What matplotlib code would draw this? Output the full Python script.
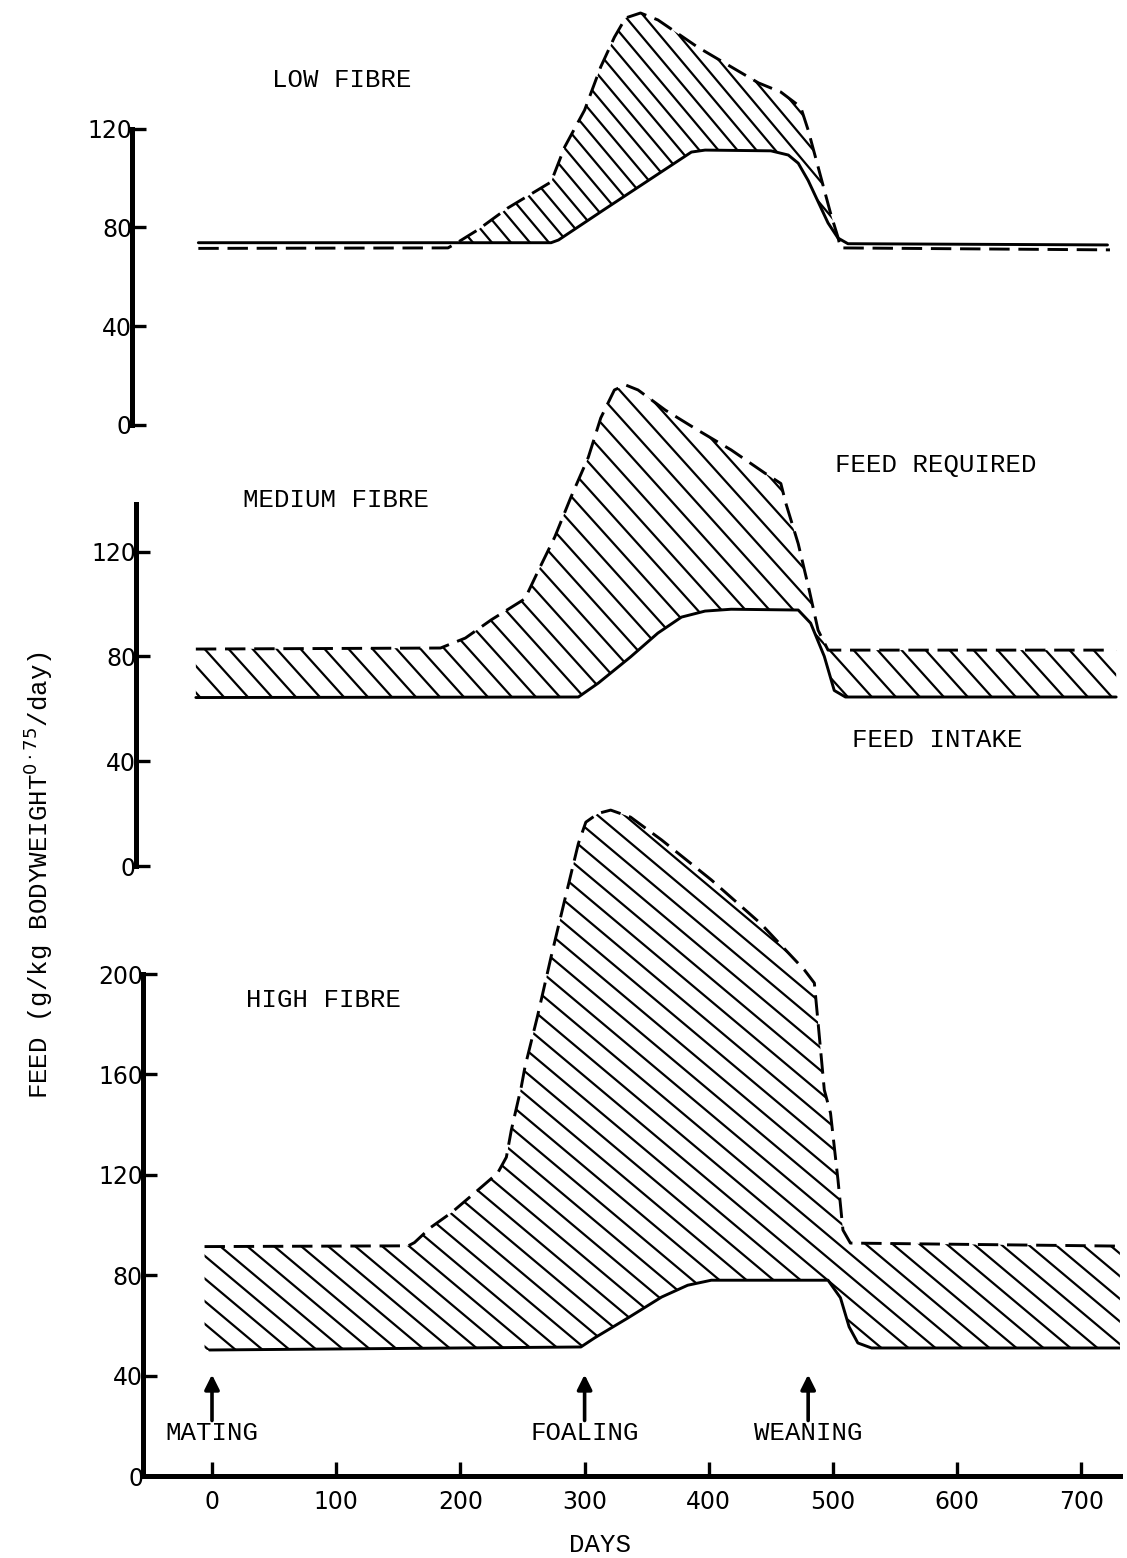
import numpy as np
import matplotlib.pyplot as plt
from matplotlib.path import Path

# feed intake (solid) and feed required (dashed)
# days from mating  /  g per kg bodyweight^0.75 per day
low_int_d = [-11, 273, 279, 316, 386, 397, 450, 464, 472, 480, 496, 504, 512, 721]
low_int_v = [73.8, 73.8, 74.9, 87.3, 110.5, 111.3, 111, 109.3, 106, 99, 81.8, 75.7, 73.4, 72.9]
low_req_d = [-11, 190, 198, 214, 238, 273, 284, 300, 313, 324, 333, 345, 359, 391,
             418, 440, 458, 474, 480, 488, 498, 504, 506, 723]
low_req_v = [71.5, 71.7, 74, 79, 87.8, 98.4, 112.6, 127.5, 145, 157, 164.8, 166.8, 164, 153,
             145, 138.5, 134.8, 128.7, 119.4, 104.5, 85.8, 76, 71.7, 70.9]

med_int_d = [-13, 295, 311, 337, 359, 378, 397, 418, 472, 482, 493, 501, 510, 728]
med_int_v = [64.3, 64.5, 69.8, 79.8, 88.9, 95, 97.3, 98, 97.7, 92.7, 80, 67, 64.5, 64.5]
med_req_d = [-13, 184, 204, 225, 252, 262, 276, 289, 303, 313, 324, 333, 343, 365,
             391, 418, 445, 458, 462, 472, 481, 488, 496, 723]
med_req_v = [82.8, 83.2, 87, 94, 102, 112, 125.6, 140.8, 156, 171, 181.7, 183.6, 181.7, 174,
             166.4, 158.8, 150, 146, 138.5, 123, 105, 90, 82.4, 82.4]

high_int_d = [-2, 297, 308, 335, 362, 383, 402, 493, 496, 506, 513, 520, 531, 731]
high_int_v = [50.2, 51.4, 55, 63, 71.3, 76, 78, 78, 78, 71, 59.4, 53, 51, 51]
high_req_d = [-6, 158, 163, 176, 193, 212, 230, 237, 241, 249, 252, 262, 273, 284, 295,
              301, 311, 321, 337, 362, 402, 442, 477, 485, 488, 493, 498, 504, 508, 514, 729]
high_req_v = [91.4, 91.7, 93, 99, 105, 113, 120.7, 127, 137.8, 155, 163, 183, 206.8, 229.5, 252,
              260.5, 264, 265.3, 262.5, 253.4, 237.5, 220, 201.6, 196.4, 180.5, 153.8, 144.6,
              118, 98, 92.8, 91.6]

events = ['MATING', 'FOALING', 'WEANING']
event_days = [0, 300, 480]
day_ticks = [0, 100, 200, 300, 400, 500, 600, 700]

W, H = 1127, 1558
X0, XS = 212, 1.242          # pixel of day 0, pixels per day
MONO = 'Liberation Mono'

fig = plt.figure(figsize=(W / 100, H / 100), dpi=100)


def panel(left, right, top, bottom, ppu, ymax, yticks):
    ax = fig.add_axes([left / W, 1 - bottom / H, (right - left) / W, (bottom - top) / H])
    ax.set_xlim((left - X0) / XS, (right - X0) / XS)
    ax.set_ylim(0, (bottom - top) / ppu)
    ax.patch.set_visible(False)
    for s in ['top', 'right', 'bottom']:
        ax.spines[s].set_visible(False)
    ax.spines['left'].set_linewidth(3.6)
    ax.spines['left'].set_bounds(0, ymax)
    ax.set_yticks(yticks)
    ax.set_xticks([])
    ax.tick_params(axis='y', direction='in', length=10, width=2.4, pad=0, labelsize=17)
    return ax


def hatch(ax, d_lo, v_lo, d_hi, v_hi, gap, ang):
    xs = np.union1d(d_lo, d_hi)
    lo = np.interp(xs, d_lo, v_lo)
    hi = np.interp(xs, d_hi, v_hi)
    area = ax.fill_between(xs, lo, hi, where=hi > lo, interpolate=True,
                           facecolor='none', edgecolor='none')
    clip = Path.make_compound_path(*area.get_paths())
    bb = ax.get_position()
    w, h = bb.width * W, bb.height * H
    run = h / np.tan(np.radians(ang))
    for c in np.arange(-run, w, gap):
        ln, = ax.plot([c / w, (c + run) / w], [1, 0], transform=ax.transAxes,
                      color='black', lw=1.6)
        ln.set_clip_path(clip, ax.transData)


def curves(ax, d_int, v_int, d_req, v_req):
    ax.plot(d_int, v_int, color='black', lw=2.1, solid_capstyle='round')
    ax.plot(d_req, v_req, color='black', lw=2.1, dashes=(7, 3))


# LOW FIBRE
ax1 = panel(132, 1120, 0, 425, 2.47, 120, [0, 40, 80, 120])
hatch(ax1, low_int_d, low_int_v, low_req_d, low_req_v, 19, 50)
curves(ax1, low_int_d, low_int_v, low_req_d, low_req_v)

# MEDIUM FIBRE
ax2 = panel(136, 1120, 370, 866, 2.62, 138, [0, 40, 80, 120])
hatch(ax2, med_int_d, med_int_v, med_req_d, med_req_v, 24, 48)
curves(ax2, med_int_d, med_int_v, med_req_d, med_req_v)

# HIGH FIBRE
ax3 = panel(143, 1120, 790, 1476, 2.51, 200, [0, 40, 80, 120, 160, 200])
hatch(ax3, high_int_d, high_int_v, high_req_d, high_req_v, 27, 40)
curves(ax3, high_int_d, high_int_v, high_req_d, high_req_v)
ax3.spines['bottom'].set_visible(True)
ax3.spines['bottom'].set_linewidth(3.6)
ax3.set_xticks(day_ticks)
ax3.tick_params(axis='x', direction='in', length=10, width=2.4, pad=10, labelsize=17)

for name, d in zip(events, event_days):
    ax3.annotate('', xy=(d, 41.5), xytext=(d, 21),
                 arrowprops=dict(arrowstyle='-|>', lw=2.6, color='black', mutation_scale=22))
    ax3.text(d, 17, name, ha='center', va='center', fontsize=18.5, family=MONO)


def label(x, y, s, **kw):
    fig.text(x / W, 1 - y / H, s, ha='center', va='center', fontsize=18.5, family=MONO, **kw)


label(342, 80, 'LOW FIBRE')
label(336, 500, 'MEDIUM FIBRE')
label(936, 465, 'FEED REQUIRED')
label(937, 740, 'FEED INTAKE')
label(323, 1000, 'HIGH FIBRE')
label(600, 1545, 'DAYS')
label(38, 875, r'FEED (g/kg BODYWEIGHT$^{0\cdot75}$/day)', rotation=90)

fig.savefig('out.png', dpi=100)
